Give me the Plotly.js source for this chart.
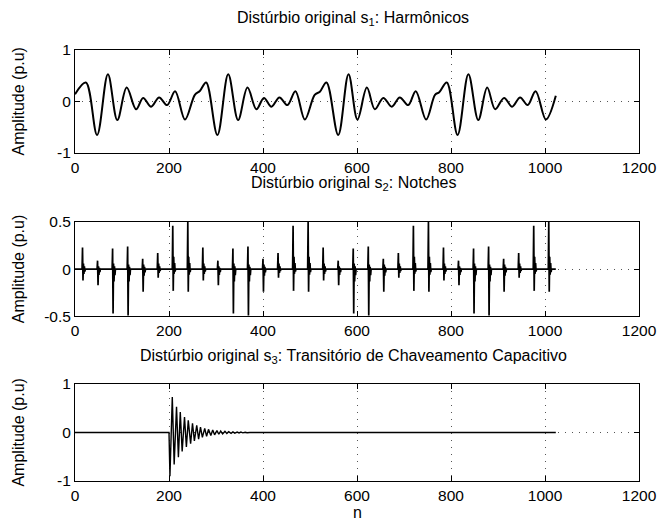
<!DOCTYPE html>
<html><head><meta charset="utf-8">
<script src="https://cdn.plot.ly/plotly-3.0.1.min.js"></script>
<style>html,body{margin:0;padding:0;background:#fff}#chart{width:659px;height:522px}</style>
</head><body><div id="chart"></div>
<script>
// ---- Data ----
const xTicks = [0, 200, 400, 600, 800, 1000, 1200];
const nLast = 1023;

// s1: harmonics, sample index and value at each turning point
const s1N = [0, 23, 47, 70, 90, 110, 130, 145, 162, 179, 196, 213, 234, 255, 266,
  279, 303, 326, 347, 367, 386, 402, 418, 435, 452, 469, 489, 510, 521,
  535, 560, 582, 601, 621, 638, 656, 674, 691, 709, 725, 747, 766, 775,
  791, 814, 837, 858, 877, 894, 913, 930, 947, 963, 980, 1002, 1023];
const s1V = [0.14, 0.37, -0.65, 0.53, -0.36, 0.27, -0.15, 0.07, -0.10, 0.08, -0.07, 0.20, -0.35, 0.13, 0.21,
  0.37, -0.65, 0.53, -0.36, 0.27, -0.15, 0.07, -0.10, 0.08, -0.07, 0.20, -0.35, 0.13, 0.19,
  0.37, -0.65, 0.53, -0.35, 0.27, -0.15, 0.07, -0.10, 0.08, -0.07, 0.20, -0.35, 0.13, 0.18,
  0.37, -0.65, 0.53, -0.36, 0.27, -0.15, 0.07, -0.10, 0.08, -0.07, 0.20, -0.35, 0.11];

// s2: notches
const notchN = [16, 48, 80, 112, 144, 176, 208, 240, 272, 304, 336, 368, 400, 432, 464, 496,
  528, 560, 592, 624, 656, 688, 720, 752, 784, 816, 848, 880, 912, 944, 976, 1008];
const notchHi = [0.23, 0.09, 0.22, 0.24, 0.11, 0.17, 0.46, 0.50,
  0.23, 0.09, 0.22, 0.24, 0.11, 0.17, 0.46, 0.50,
  0.23, 0.09, 0.22, 0.24, 0.11, 0.17, 0.46, 0.50,
  0.23, 0.09, 0.22, 0.24, 0.11, 0.17, 0.46, 0.50];
const notchLo = [-0.12, -0.17, -0.47, -0.49, -0.24, -0.09, -0.23, -0.24,
  -0.12, -0.17, -0.47, -0.49, -0.24, -0.09, -0.23, -0.24,
  -0.12, -0.17, -0.47, -0.49, -0.24, -0.09, -0.23, -0.24,
  -0.12, -0.17, -0.47, -0.49, -0.24, -0.09, -0.23, -0.24];
const ringHi = [0.06, 0.03, 0.06, 0.05, 0.05, 0.06, 0.13, 0.13,
  0.06, 0.03, 0.06, 0.05, 0.05, 0.06, 0.13, 0.13,
  0.06, 0.03, 0.06, 0.05, 0.05, 0.06, 0.13, 0.13,
  0.06, 0.03, 0.06, 0.05, 0.05, 0.06, 0.13, 0.13];
const ringLo = [-0.05, -0.06, -0.13, -0.13, -0.07, -0.04, -0.05, -0.06,
  -0.05, -0.06, -0.13, -0.13, -0.07, -0.04, -0.05, -0.06,
  -0.05, -0.06, -0.13, -0.13, -0.07, -0.04, -0.05, -0.06,
  -0.05, -0.06, -0.13, -0.13, -0.07, -0.04, -0.05, -0.06];

// s3: capacitor switching transient
const s3Start = 200;
const s3End = 372;
const s3TroughN = [202, 211, 220, 228, 237, 246, 254, 263, 271, 280, 289, 297, 306, 314, 323, 332, 340, 349, 357, 366];
const s3TroughV = [-0.90, -0.66, -0.51, -0.39, -0.30, -0.23, -0.175, -0.135, -0.10, -0.08, -0.06, -0.047, -0.036, -0.028, -0.021, -0.016, -0.012, -0.009, -0.007, -0.005];
const s3PeakN = [207, 216, 224, 233, 241, 250, 259, 267, 276, 284, 293, 302, 310, 319, 327, 336, 345, 353, 362];
const s3PeakV = [0.73, 0.53, 0.42, 0.32, 0.25, 0.19, 0.15, 0.11, 0.085, 0.065, 0.05, 0.038, 0.03, 0.023, 0.018, 0.014, 0.01, 0.008, 0.006];

const titles = ['Distúrbio original s<sub>1</sub>: Harmônicos',
  'Distúrbio original s<sub>2</sub>: Notches',
  'Distúrbio original s<sub>3</sub>: Transitório de Chaveamento Capacitivo'];
const yLabel = 'Amplitude (p.u)';
const xLabel = 'n';

// ---- Build series ----
const s2x = [0], s2y = [0];
notchN.forEach((n, i) => {
  s2x.push(n - 1, n, n + 1, n + 2, n + 3, n + 4, n + 5, n + 6);
  s2y.push(0, notchHi[i], notchLo[i], ringHi[i], ringLo[i], ringHi[i] * 0.5, ringLo[i] * 0.5, 0);
});
s2x.push(nLast); s2y.push(0);

const s3pts = [];
s3TroughN.forEach((n, i) => s3pts.push([n, s3TroughV[i]]));
s3PeakN.forEach((n, i) => s3pts.push([n, s3PeakV[i]]));
s3pts.sort((a, b) => a[0] - b[0]);
const s3x = [0, s3Start].concat(s3pts.map(p => p[0]), [s3End, nLast]);
const s3y = [0, 0].concat(s3pts.map(p => p[1]), [0, 0]);

// ---- Plot ----
const FONT = 'Liberation Sans, Arial, Helvetica, sans-serif';
const FS = 16;
const TFS = 15.5;
const traces = [
  {x: s1N, y: s1V, xaxis: 'x', yaxis: 'y', mode: 'lines', line: {color: '#000', width: 2, shape: 'spline', smoothing: 1}},
  {x: s2x, y: s2y, xaxis: 'x2', yaxis: 'y2', mode: 'lines', line: {color: '#000', width: 1.7}},
  {x: s3x, y: s3y, xaxis: 'x3', yaxis: 'y3', mode: 'lines', line: {color: '#000', width: 1.4}}
];

const GRID = {showgrid: true, gridcolor: '#555', griddash: '1px,6px', gridwidth: 1};
function xa(anchor) {
  return Object.assign({anchor: anchor, domain: [0, 1], range: [0, 1200], tickvals: xTicks, ticktext: xTicks.map(String),
    ticks: 'inside', ticklen: 5, tickcolor: '#000', showline: true, mirror: 'ticks', linecolor: '#000', linewidth: 1,
    zeroline: false, tickfont: {family: FONT, size: TFS, color: '#000'}, fixedrange: true}, GRID);
}
function ya(anchor, dom, lim, vals, txt) {
  return Object.assign({anchor: anchor, domain: dom, range: lim, tickvals: vals, ticktext: txt,
    ticks: 'inside', ticklen: 5, tickcolor: '#000', showline: true, mirror: 'ticks', linecolor: '#000', linewidth: 1,
    zeroline: false, tickfont: {family: FONT, size: TFS, color: '#000'}, fixedrange: true}, GRID);
}

const d1 = [0.761, 1], d2 = [0.382, 0.601], d3 = [0, 0.225];
const ann = [];
const titleY = [1.074, 0.691, 0.288];
titles.forEach((t, i) => ann.push({text: t, xref: 'paper', yref: 'paper', x: 0.493, y: titleY[i],
  xanchor: 'center', yanchor: 'middle', showarrow: false, font: {family: FONT, size: FS, color: '#000'}}));
[d1, d2, d3].forEach(d => ann.push({text: yLabel, xref: 'paper', yref: 'paper', x: -0.101, y: (d[0] + d[1]) / 2,
  xanchor: 'center', yanchor: 'middle', textangle: -90, showarrow: false, font: {family: FONT, size: FS, color: '#000'}}));
ann.push({text: xLabel, xref: 'paper', yref: 'paper', x: 0.5, y: -0.074, xanchor: 'center', yanchor: 'middle',
  showarrow: false, font: {family: FONT, size: FS, color: '#000'}});

const layout = {
  width: 659, height: 522, margin: {l: 75, r: 20, t: 50, b: 41},
  paper_bgcolor: '#fff', plot_bgcolor: '#fff', showlegend: false, hovermode: false,
  font: {family: FONT, size: FS, color: '#000'},
  xaxis: xa('y'), yaxis: ya('x', d1, [-1, 1], [-1, 0, 1], ['-1', '0', '1']),
  xaxis2: xa('y2'), yaxis2: ya('x2', d2, [-0.5, 0.5], [-0.5, 0, 0.5], ['-0.5', '0', '0.5']),
  xaxis3: xa('y3'), yaxis3: ya('x3', d3, [-1, 1], [-1, 0, 1], ['-1', '0', '1']),
  annotations: ann
};
Plotly.newPlot('chart', traces, layout, {staticPlot: true, displayModeBar: false});
</script></body></html>
